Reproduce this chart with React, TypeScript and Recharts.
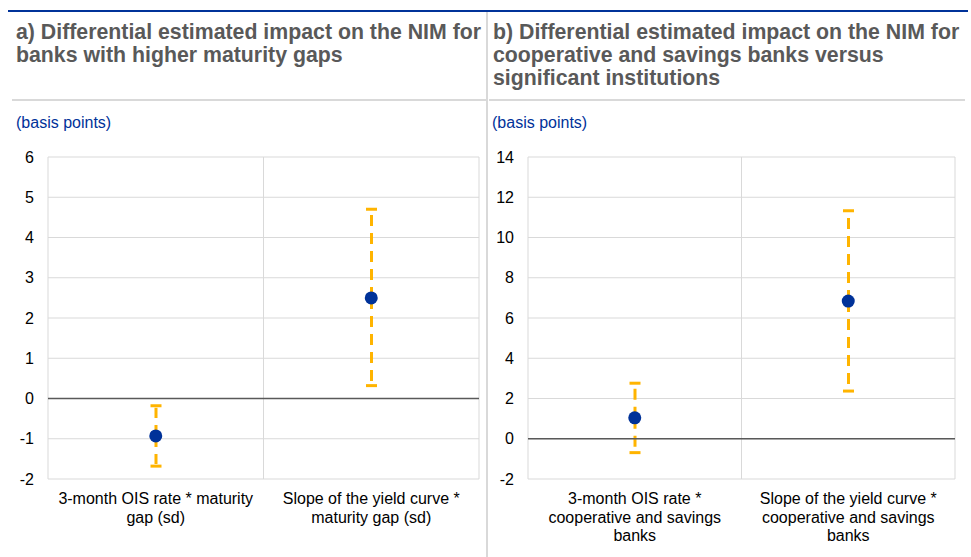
import React from "react";
import {
  ComposedChart,
  Bar,
  Line,
  XAxis,
  YAxis,
  CartesianGrid,
  ReferenceLine,
} from "recharts";

// ---------- data ----------
const categoriesA = [
  "3-month OIS rate * maturity\ngap (sd)",
  "Slope of the yield curve *\nmaturity gap (sd)",
];
const valuesA = [-0.93, 2.5];
const lowA = [-1.68, 0.32];
const highA = [-0.18, 4.7];
const ticksA = [-2, -1, 0, 1, 2, 3, 4, 5, 6];

const categoriesB = [
  "3-month OIS rate *\ncooperative and savings\nbanks",
  "Slope of the yield curve *\ncooperative and savings\nbanks",
];
const valuesB = [1.04, 6.84];
const lowB = [-0.69, 2.37];
const highB = [2.76, 11.33];
const ticksB = [-2, 0, 2, 4, 6, 8, 10, 12, 14];

const titleA = ["a) Differential estimated impact on the NIM for", "banks with higher maturity gaps"];
const titleB = [
  "b) Differential estimated impact on the NIM for",
  "cooperative and savings banks versus",
  "significant institutions",
];
const unitLabel = "(basis points)";

// ---------- styles ----------
const FONT = "'Liberation Sans', Arial, Helvetica, sans-serif";
const BLUE = "#003299";
const ORANGE = "#FFB400";
const GRID = "#d9d9d9";
const TITLE = "#595959";

function build(cats: string[], vals: number[], lo: number[], hi: number[]) {
  return cats.map((c, i) => ({
    cat: c,
    value: vals[i],
    low: lo[i],
    high: hi[i],
    range: [lo[i], hi[i]],
  }));
}

const ErrorShape = (props: any) => {
  const { x, y, width, height, payload } = props;
  if (x == null || y == null) return null;
  const cx = x + width / 2;
  const top = y;
  const bottom = y + height;
  const vy = top + (height * (payload.high - payload.value)) / (payload.high - payload.low);
  const cap = 5.5;
  return (
    <g>
      <line x1={cx} y1={vy} x2={cx} y2={top + 2} stroke={ORANGE} strokeWidth={3} strokeDasharray="11 7" />
      <line x1={cx} y1={vy} x2={cx} y2={bottom - 2} stroke={ORANGE} strokeWidth={3} strokeDasharray="11 7" />
      <line x1={cx - cap} y1={top} x2={cx + cap} y2={top} stroke={ORANGE} strokeWidth={3} />
      <line x1={cx - cap} y1={bottom} x2={cx + cap} y2={bottom} stroke={ORANGE} strokeWidth={3} />
    </g>
  );
};

const XTick = (props: any) => {
  const { x, y, payload } = props;
  const lines = String(payload.value).split("\n");
  return (
    <text x={x} y={y} textAnchor="middle" fontSize={16} fontFamily={FONT} fill="#000">
      {lines.map((l, i) => (
        <tspan key={i} x={x} dy={i === 0 ? 19 : 18.7}>
          {l}
        </tspan>
      ))}
    </text>
  );
};

const gridGen = ({ offset }: any) => [
  offset.left,
  offset.left + offset.width / 2,
  offset.left + offset.width,
];

function Panel(props: {
  data: any[];
  ticks: number[];
  width: number;
  yWidth: number;
  right: number;
}) {
  const { data, ticks, width, yWidth, right } = props;
  return (
    <ComposedChart
      width={width}
      height={557}
      data={data}
      margin={{ top: 157, right, bottom: 8, left: 8 }}
    >
      <CartesianGrid
        stroke={GRID}
        strokeWidth={1}
        verticalCoordinatesGenerator={gridGen}
      />
      <XAxis
        dataKey="cat"
        type="category"
        axisLine={false}
        tickLine={false}
        tickMargin={0}
        height={70}
        interval={0}
        tick={<XTick />}
      />
      <YAxis
        type="number"
        domain={[ticks[0], ticks[ticks.length - 1]]}
        ticks={ticks}
        interval={0}
        width={yWidth}
        axisLine={false}
        tickLine={false}
        tickMargin={8}
        tick={{ fontSize: 16, fill: "#000", fontFamily: FONT }}
        allowDataOverflow
      />
      <ReferenceLine y={0} stroke="#595959" strokeWidth={1.6} />
      <Bar dataKey="range" barSize={12} shape={<ErrorShape />} isAnimationActive={false} />
      <Line
        dataKey="value"
        stroke="none"
        dot={{ r: 6.5, fill: BLUE, stroke: "none" }}
        activeDot={false}
        isAnimationActive={false}
      />
    </ComposedChart>
  );
}

const titleStyle: React.CSSProperties = {
  position: "absolute",
  fontFamily: FONT,
  fontWeight: "bold",
  fontSize: 21.3,
  lineHeight: "23px",
  color: TITLE,
  whiteSpace: "nowrap",
};

const unitStyle: React.CSSProperties = {
  position: "absolute",
  fontFamily: FONT,
  fontSize: 16,
  lineHeight: "18px",
  color: BLUE,
  whiteSpace: "nowrap",
};

export default function App() {
  const dataA = build(categoriesA, valuesA, lowA, highA);
  const dataB = build(categoriesB, valuesB, lowB, highB);
  return (
    <div
      style={{
        position: "absolute",
        left: 0,
        top: 0,
        width: 971,
        height: 557,
        background: "#fff",
        overflow: "hidden",
      }}
    >
      {/* top blue rule */}
      <div style={{ position: "absolute", left: 8, top: 10, width: 960, height: 2, background: BLUE }} />
      {/* vertical divider */}
      <div style={{ position: "absolute", left: 486, top: 12, width: 2, height: 545, background: GRID }} />
      {/* rules under titles */}
      <div style={{ position: "absolute", left: 12, top: 99, width: 474, height: 2, background: GRID }} />
      <div style={{ position: "absolute", left: 489, top: 99, width: 476, height: 2, background: GRID }} />

      <div style={{ ...titleStyle, left: 16, top: 21 }}>
        {titleA.map((t, i) => (
          <div key={i}>{t}</div>
        ))}
      </div>
      <div style={{ ...titleStyle, left: 493, top: 21 }}>
        {titleB.map((t, i) => (
          <div key={i}>{t}</div>
        ))}
      </div>
      <div style={{ ...unitStyle, left: 16, top: 114 }}>{unitLabel}</div>
      <div style={{ ...unitStyle, left: 492, top: 114 }}>{unitLabel}</div>

      <div style={{ position: "absolute", left: 0, top: 0 }}>
        <Panel data={dataA} ticks={ticksA} width={488} yWidth={40} right={9} />
      </div>
      <div style={{ position: "absolute", left: 488, top: 0 }}>
        <Panel data={dataB} ticks={ticksB} width={483} yWidth={32} right={16} />
      </div>
    </div>
  );
}
